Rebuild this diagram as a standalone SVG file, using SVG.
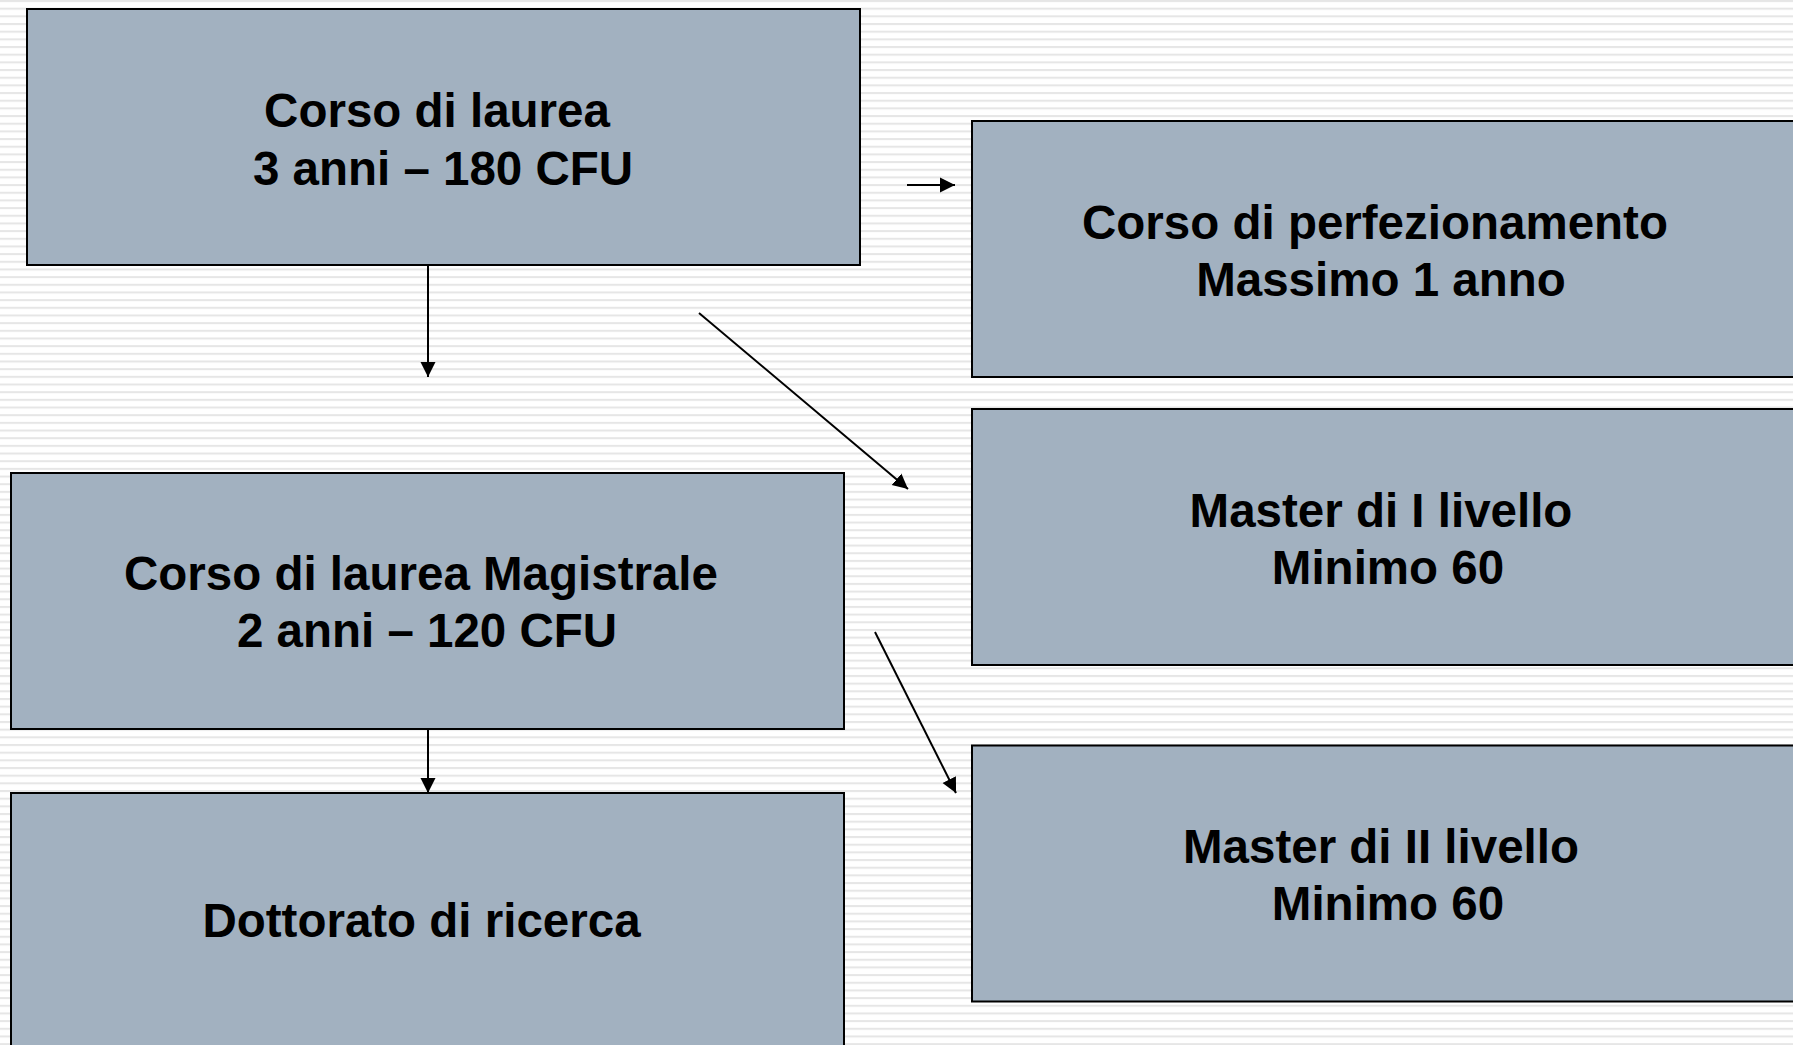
<svg xmlns="http://www.w3.org/2000/svg" width="1793" height="1045" viewBox="0 0 1793 1045">
  <defs>
    <pattern id="stripes" x="0" y="0" width="20" height="7.67" patternUnits="userSpaceOnUse">
      <rect x="0" y="0" width="20" height="7.67" fill="#ffffff"/>
      <rect x="0" y="0" width="20" height="2" fill="#e6e6e6"/>
    </pattern>
    <marker id="arr" markerUnits="userSpaceOnUse" markerWidth="16" markerHeight="16" refX="15" refY="7.5" orient="auto" viewBox="0 0 16 15">
      <path d="M0,0 L15,7.5 L0,15 z" fill="#000"/>
    </marker>
  </defs>
  <style>
    .box { fill: #a2b1c0; stroke: #000; stroke-width: 2; }
    .lbl { font-family: "Liberation Sans", Arial, sans-serif; font-weight: bold; font-size: 47.5px; fill: #000; text-anchor: middle; }
    .conn { stroke: #000; stroke-width: 2; fill: none; marker-end: url(#arr); }
  </style>
  <rect x="0" y="0" width="1793" height="1045" fill="url(#stripes)"/>

  <g id="node-laurea">
    <rect class="box" x="27" y="9" width="833" height="256"/>
    <text class="lbl" x="437" y="127">Corso di laurea</text>
    <text class="lbl" x="443" y="185">3 anni – 180 CFU</text>
  </g>
  <g id="node-perfezionamento">
    <rect class="box" x="972" y="121" width="833" height="256"/>
    <text class="lbl" x="1375" y="239">Corso di perfezionamento</text>
    <text class="lbl" x="1381" y="296">Massimo 1 anno</text>
  </g>
  <g id="node-master1">
    <rect class="box" x="972" y="409" width="833" height="256"/>
    <text class="lbl" x="1381" y="527">Master di I livello</text>
    <text class="lbl" x="1388" y="584">Minimo 60</text>
  </g>
  <g id="node-master2">
    <rect class="box" x="972" y="745.5" width="833" height="256"/>
    <text class="lbl" x="1381" y="863">Master di II livello</text>
    <text class="lbl" x="1388" y="920">Minimo 60</text>
  </g>
  <g id="node-magistrale">
    <rect class="box" x="11" y="473" width="833" height="256"/>
    <text class="lbl" x="421" y="590">Corso di laurea Magistrale</text>
    <text class="lbl" x="427" y="647">2 anni – 120 CFU</text>
  </g>
  <g id="node-dottorato">
    <rect class="box" x="11" y="793" width="833" height="256"/>
    <text class="lbl" x="421.5" y="937">Dottorato di ricerca</text>
  </g>

  <g id="connectors">
    <line class="conn" x1="428" y1="265" x2="428" y2="377"/>
    <line class="conn" x1="907" y1="185" x2="955" y2="185"/>
    <line class="conn" x1="699" y1="313" x2="908" y2="489"/>
    <line class="conn" x1="875" y1="632" x2="956" y2="793"/>
    <line class="conn" x1="428" y1="729" x2="428" y2="793"/>
  </g>
</svg>
